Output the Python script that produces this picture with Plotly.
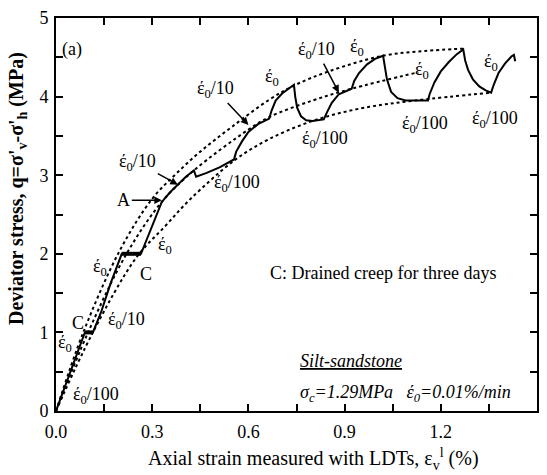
import plotly.graph_objects as go

# ---- data ----
strain = [0, 0.02, 0.045, 0.07, 0.09, 0.115, 0.14, 0.17, 0.195, 0.205, 0.265, 0.275, 0.30, 0.33,
          0.355, 0.38, 0.405, 0.43, 0.437, 0.47, 0.51, 0.555, 0.562, 0.58, 0.60, 0.63, 0.665,
          0.672, 0.685, 0.705, 0.725, 0.742, 0.746, 0.752, 0.764, 0.78, 0.80, 0.835, 0.845, 0.86,
          0.882, 0.905, 0.922, 0.93, 0.945, 0.97, 0.995, 1.02, 1.024, 1.032, 1.045, 1.065, 1.09,
          1.16, 1.165, 1.18, 1.20, 1.225, 1.25, 1.27, 1.276, 1.285, 1.30, 1.32, 1.34, 1.357,
          1.365, 1.38, 1.40, 1.42, 1.428, 1.432]
q = [0, 0.22, 0.5, 0.78, 1.0, 1.0, 1.25, 1.62, 1.9, 2.0, 2.0, 2.1, 2.37, 2.66,
     2.78, 2.88, 2.98, 3.06, 2.98, 3.03, 3.1, 3.2, 3.3, 3.43, 3.55, 3.65, 3.72,
     3.82, 3.95, 4.04, 4.1, 4.15, 4.0, 3.86, 3.75, 3.7, 3.69, 3.71, 3.8, 3.92,
     4.03, 4.07, 4.10, 4.2, 4.3, 4.41, 4.48, 4.52, 4.4, 4.22, 4.06, 3.98, 3.95,
     3.95, 4.03, 4.18, 4.32, 4.44, 4.54, 4.60, 4.46, 4.34, 4.22, 4.13, 4.08, 4.05,
     4.15, 4.3, 4.42, 4.51, 4.53, 4.45]

creep1_x = [0.09, 0.115]
creep1_q = [1.0, 1.0]
creep2_x = [0.205, 0.265]
creep2_q = [2.0, 2.0]

upper_x = [0, 0.085, 0.2, 0.3, 0.37, 0.45, 0.55, 0.665, 0.742, 0.85, 1.02, 1.15, 1.27]
upper_q = [0, 1.0, 2.05, 2.7, 3.0, 3.3, 3.62, 3.96, 4.14, 4.32, 4.52, 4.58, 4.61]
middle_x = [0, 0.1, 0.22, 0.33, 0.43, 0.6, 0.665, 0.8, 0.922, 1.13]
middle_q = [0, 1.0, 2.0, 2.66, 3.06, 3.58, 3.74, 3.95, 4.10, 4.31]
lower_x = [0, 0.115, 0.25, 0.34, 0.42, 0.56, 0.665, 0.8, 0.95, 1.12, 1.357]
lower_q = [0, 1.0, 1.95, 2.35, 2.7, 3.2, 3.46, 3.69, 3.85, 3.95, 4.05]

x_ticks = [0.0, 0.3, 0.6, 0.9, 1.2, 1.5]
x_ticktext = ["0.0", "0.3", "0.6", "0.9", "1.2", "1.5"]
y_ticks = [0, 1, 2, 3, 4, 5]

FONT = "Liberation Serif"
ED = "\u03ad<sub>0</sub>"  # epsilon with accent mark, subscript 0

fig = go.Figure()
for xs, ys in [(upper_x, upper_q), (middle_x, middle_q), (lower_x, lower_q)]:
    fig.add_trace(go.Scatter(x=xs, y=ys, mode="lines", line=dict(color="black", width=2, dash="dot", shape="spline"),
                             showlegend=False, hoverinfo="skip"))
fig.add_trace(go.Scatter(x=strain, y=q, mode="lines", line=dict(color="black", width=2), showlegend=False))
for xs, ys in [(creep1_x, creep1_q), (creep2_x, creep2_q)]:
    fig.add_trace(go.Scatter(x=xs, y=ys, mode="lines", line=dict(color="black", width=4), showlegend=False))

labels = [
    (0.125, 0.2, ED + "/100"),
    (0.028, 0.86, ED),
    (0.07, 1.12, "C"),
    (0.22, 1.15, ED + "/10"),
    (0.137, 1.82, ED),
    (0.28, 1.74, "C"),
    (0.34, 2.1, ED),
    (0.565, 2.89, ED + "/100"),
    (0.675, 4.24, ED),
    (0.94, 4.62, ED),
    (0.84, 3.46, ED + "/100"),
    (1.14, 4.33, ED),
    (1.15, 3.65, ED + "/100"),
    (1.355, 4.43, ED),
    (1.37, 3.71, ED + "/100"),
]
for x, y, t in labels:
    fig.add_annotation(x=x, y=y, text=t, showarrow=False, font=dict(family=FONT, size=18, color="black"))

# arrows
arrow_specs = [
    (0.33, 2.68, "A", -38, 0),
    (0.38, 2.88, ED + "/10", -40, -22),
    (0.60, 3.64, ED + "/10", -33, -35),
    (0.882, 4.05, ED + "/10", -22, -42),
]
for x, y, t, ax, ay in arrow_specs:
    fig.add_annotation(x=x, y=y, text=t, showarrow=True, ax=ax, ay=ay, arrowhead=2, arrowsize=1,
                       arrowwidth=1.5, arrowcolor="black", font=dict(family=FONT, size=18, color="black"))

fig.add_annotation(x=0.05, y=4.6, text="(a)", showarrow=False, font=dict(family=FONT, size=18, color="black"))
fig.add_annotation(x=1.02, y=1.76, text="C: Drained creep for three days", showarrow=False,
                   font=dict(family=FONT, size=18, color="black"))
fig.add_annotation(x=0.92, y=0.64, text="<i><u>Silt-sandstone</u></i>", showarrow=False,
                   font=dict(family=FONT, size=18, color="black"))
fig.add_annotation(x=1.09, y=0.22, text="<i>\u03c3<sub>c</sub>=1.29MPa   \u03ad<sub>0</sub>=0.01%/min</i>",
                   showarrow=False, font=dict(family=FONT, size=18, color="black"))

# axis titles
fig.add_annotation(xref="paper", yref="paper", x=-0.079, y=0.565, xanchor="center", yanchor="middle",
                   textangle=-90, showarrow=False,
                   text="<b>Deviator stress, q=\u03c3'<sub>v</sub>-\u03c3'<sub>h</sub> (MPa)</b>",
                   font=dict(family=FONT, size=20, color="black"))
fig.add_annotation(xref="paper", yref="paper", x=0.536, y=-0.121, xanchor="center", yanchor="middle",
                   showarrow=False,
                   text="Axial strain measured with LDTs, \u03b5<sub>v</sub><sup>l</sup> (%)",
                   font=dict(family=FONT, size=20, color="black"))

axis_common = dict(showgrid=False, zeroline=False, showline=True, linecolor="black", linewidth=2,
                   mirror="ticks", ticks="inside", ticklen=7, tickwidth=1.5, tickcolor="black",
                   tickfont=dict(family=FONT, size=18, color="black"))
fig.update_xaxes(range=[0, 1.5], tickvals=x_ticks, ticktext=x_ticktext, ticklabelstandoff=3,
                 minor=dict(dtick=0.15, ticks="inside", ticklen=7, tickcolor="black", tickwidth=1.5),
                 **axis_common)
fig.update_yaxes(range=[0, 5], tickvals=y_ticks, ticklabelstandoff=2,
                 minor=dict(dtick=0.5, ticks="inside", ticklen=7, tickcolor="black", tickwidth=1.5),
                 **axis_common)

fig.update_layout(width=547, height=475, margin=dict(l=56, r=8, t=15, b=64),
                  plot_bgcolor="white", paper_bgcolor="white", showlegend=False)

fig.write_html("out.html")
